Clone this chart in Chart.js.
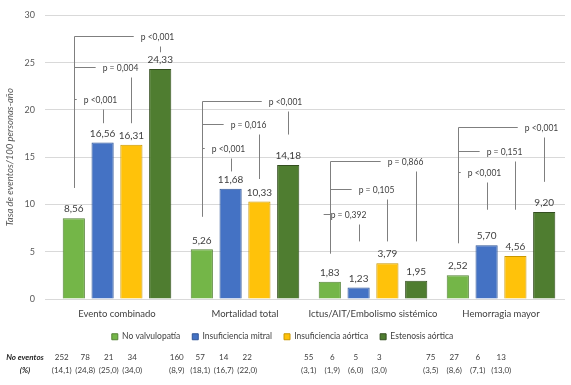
<!DOCTYPE html>
<html lang="es">
<head>
    <meta charset="UTF-8">
    <title>Tasa de eventos</title>
    <script src="https://cdn.jsdelivr.net/npm/chart.js"></script>
    <style>
        body { margin: 0; background: #fff; }
        #wrap { width: 571px; height: 385px; position: relative; }
    </style>
</head>
<body>
    <div id="wrap"><canvas id="eventosChart"></canvas></div>

    <script>
        // Datos
        const categories = ['Evento combinado', 'Mortalidad total', 'Ictus/AIT/Embolismo sistémico', 'Hemorragia mayor'];
        const seriesNames = ['No valvulopatía', 'Insuficiencia mitral', 'Insuficiencia aórtica', 'Estenosis aórtica'];
        const noValvulopatia = [8.56, 5.26, 1.83, 2.52];
        const insufMitral = [16.56, 11.68, 1.23, 5.70];
        const insufAortica = [16.31, 10.33, 3.79, 4.56];
        const estenosisAortica = [24.33, 14.18, 1.95, 9.20];
        const yTicks = [0, 5, 10, 15, 20, 25, 30];

        // p frente a No valvulopatia: [mitral, aortica, estenosis]
        const pValues = [
            ['p <0,001', 'p = 0,004', 'p <0,001'],
            ['p <0,001', 'p = 0,016', 'p <0,001'],
            ['p = 0,392', 'p = 0,105', 'p = 0,866'],
            ['p <0,001', 'p = 0,151', 'p <0,001']
        ];

        const eventCounts = [[252, 78, 21, 34], [160, 57, 14, 22], [55, 6, 5, 3], [75, 27, 6, 13]];
        const eventPct = [
            ['14,1', '24,8', '25,0', '34,0'],
            ['8,9', '18,1', '16,7', '22,0'],
            ['3,1', '1,9', '6,0', '3,0'],
            ['3,5', '8,6', '7,1', '13,0']
        ];

        // alturas de los corchetes (en unidades del eje y)
        const bracketLevels = [[21.2, 24.5, 27.8], [16.0, 18.5, 20.9], [9.0, 11.6, 14.6], [13.4, 15.7, 18.2]];
        const tickEnds = [[18.6, 18.6, 26.1], [13.5, 12.7, 17.4], [6.1, 6.1, 6.1], [9.45, 9.45, 12.4]];
        const stemEnds = [11.75, 8.7, 4.8, 5.9];

        const FONT = 'Lato, "Open Sans", sans-serif';
        const fmt = v => v.toFixed(2).replace('.', ',');

        const annotations = {
            id: 'annotations',
            afterDatasetsDraw(chart) {
                const ctx = chart.ctx;
                const y = chart.scales.y;
                const metas = [0, 1, 2, 3].map(i => chart.getDatasetMeta(i));
                ctx.save();

                // etiquetas de valor
                ctx.font = '10px ' + FONT;
                ctx.fillStyle = '#404040';
                ctx.textAlign = 'center';
                ctx.textBaseline = 'middle';
                metas.forEach((meta, i) => {
                    meta.data.forEach((bar, j) => {
                        ctx.fillText(fmt(chart.data.datasets[i].data[j]), bar.x, bar.y - 9);
                    });
                });

                // corchetes con valores p
                ctx.strokeStyle = '#7f7f7f';
                ctx.lineWidth = 1;
                ctx.font = '8.5px ' + FONT;
                categories.forEach((c, g) => {
                    const x0 = Math.round(metas[0].data[g].x) + 0.5;
                    const top = Math.round(y.getPixelForValue(bracketLevels[g][2])) + 0.5;
                    ctx.beginPath();
                    ctx.moveTo(x0, top);
                    ctx.lineTo(x0, y.getPixelForValue(stemEnds[g]));
                    ctx.stroke();
                    for (let k = 0; k < 3; k++) {
                        const ly = Math.round(y.getPixelForValue(bracketLevels[g][k])) + 0.5;
                        const tx = Math.round(metas[k + 1].data[g].x) + 0.5;
                        const txt = pValues[g][k];
                        const tc = tx + (txt.includes('=') ? -11 : -3);
                        const w = ctx.measureText(txt).width;
                        ctx.beginPath();
                        ctx.moveTo(x0, ly);
                        ctx.lineTo(tc - w / 2 - 7, ly);
                        ctx.moveTo(tx, ly + 10);
                        ctx.lineTo(tx, y.getPixelForValue(tickEnds[g][k]));
                        ctx.stroke();
                        ctx.fillText(txt, tc, ly + 1);
                    }
                });

                // tabla de numero de eventos
                ctx.font = 'italic bold 8px ' + FONT;
                ctx.fillStyle = '#262626';
                ctx.fillText('No eventos', 25, 357);
                ctx.fillText('(%)', 25, 370);
                ctx.font = '8px ' + FONT;
                ctx.fillStyle = '#404040';
                const shift = [-20, -33, -29, -35];
                const xs = chart.scales.x;
                categories.forEach((c, g) => {
                    const cx = xs.getPixelForValue(g) + shift[g];
                    for (let i = 0; i < 4; i++) {
                        const px = cx + (i - 1.5) * 23.5;
                        ctx.fillText(String(eventCounts[g][i]), px, 357);
                        ctx.fillText('(' + eventPct[g][i] + ')', px, 370);
                    }
                });
                ctx.restore();
            }
        };

        const colors = ['#74b648', '#4472c4', '#ffc20a', '#4f7d30'];
        const borders = ['#548235', '#2f5597', '#c99700', '#344f20'];
        const values = [noValvulopatia, insufMitral, insufAortica, estenosisAortica];

        const ctx = document.getElementById('eventosChart').getContext('2d');
        const chart = new Chart(ctx, {
            type: 'bar',
            data: {
                labels: categories,
                datasets: seriesNames.map((name, i) => ({
                    label: name,
                    data: values[i],
                    backgroundColor: colors[i],
                    borderColor: borders[i],
                    borderWidth: 1,
                    categoryPercentage: 0.9,
                    barPercentage: 0.77
                }))
            },
            options: {
                responsive: true,
                maintainAspectRatio: false,
                animation: false,
                layout: { padding: { top: 1, right: 6, left: 0, bottom: 34 } },
                scales: {
                    x: {
                        grid: { display: false },
                        border: { display: false },
                        ticks: {
                            color: '#404040',
                            font: { size: 9.5, family: FONT },
                            padding: 1,
                            maxRotation: 0,
                            minRotation: 0,
                            autoSkip: false
                        }
                    },
                    y: {
                        min: 0,
                        max: 30,
                        afterBuildTicks: axis => { axis.ticks = yTicks.map(v => ({ value: v })); },
                        afterFit: axis => { axis.width = 53; },
                        grid: { color: '#d9d9d9' },
                        border: { display: false },
                        ticks: { color: '#595959', font: { size: 9, family: FONT }, padding: 10 },
                        title: {
                            display: true,
                            text: 'Tasa de eventos/100 personas-año',
                            color: '#595959',
                            font: { size: 9.5, style: 'italic', family: FONT }
                        }
                    }
                },
                plugins: {
                    legend: {
                        position: 'bottom',
                        labels: {
                            boxWidth: 6,
                            boxHeight: 6,
                            padding: 12,
                            color: '#404040',
                            font: { size: 8.5, family: FONT }
                        }
                    },
                    tooltip: { enabled: false }
                }
            },
            plugins: [annotations]
        });
    </script>
</body>
</html>
